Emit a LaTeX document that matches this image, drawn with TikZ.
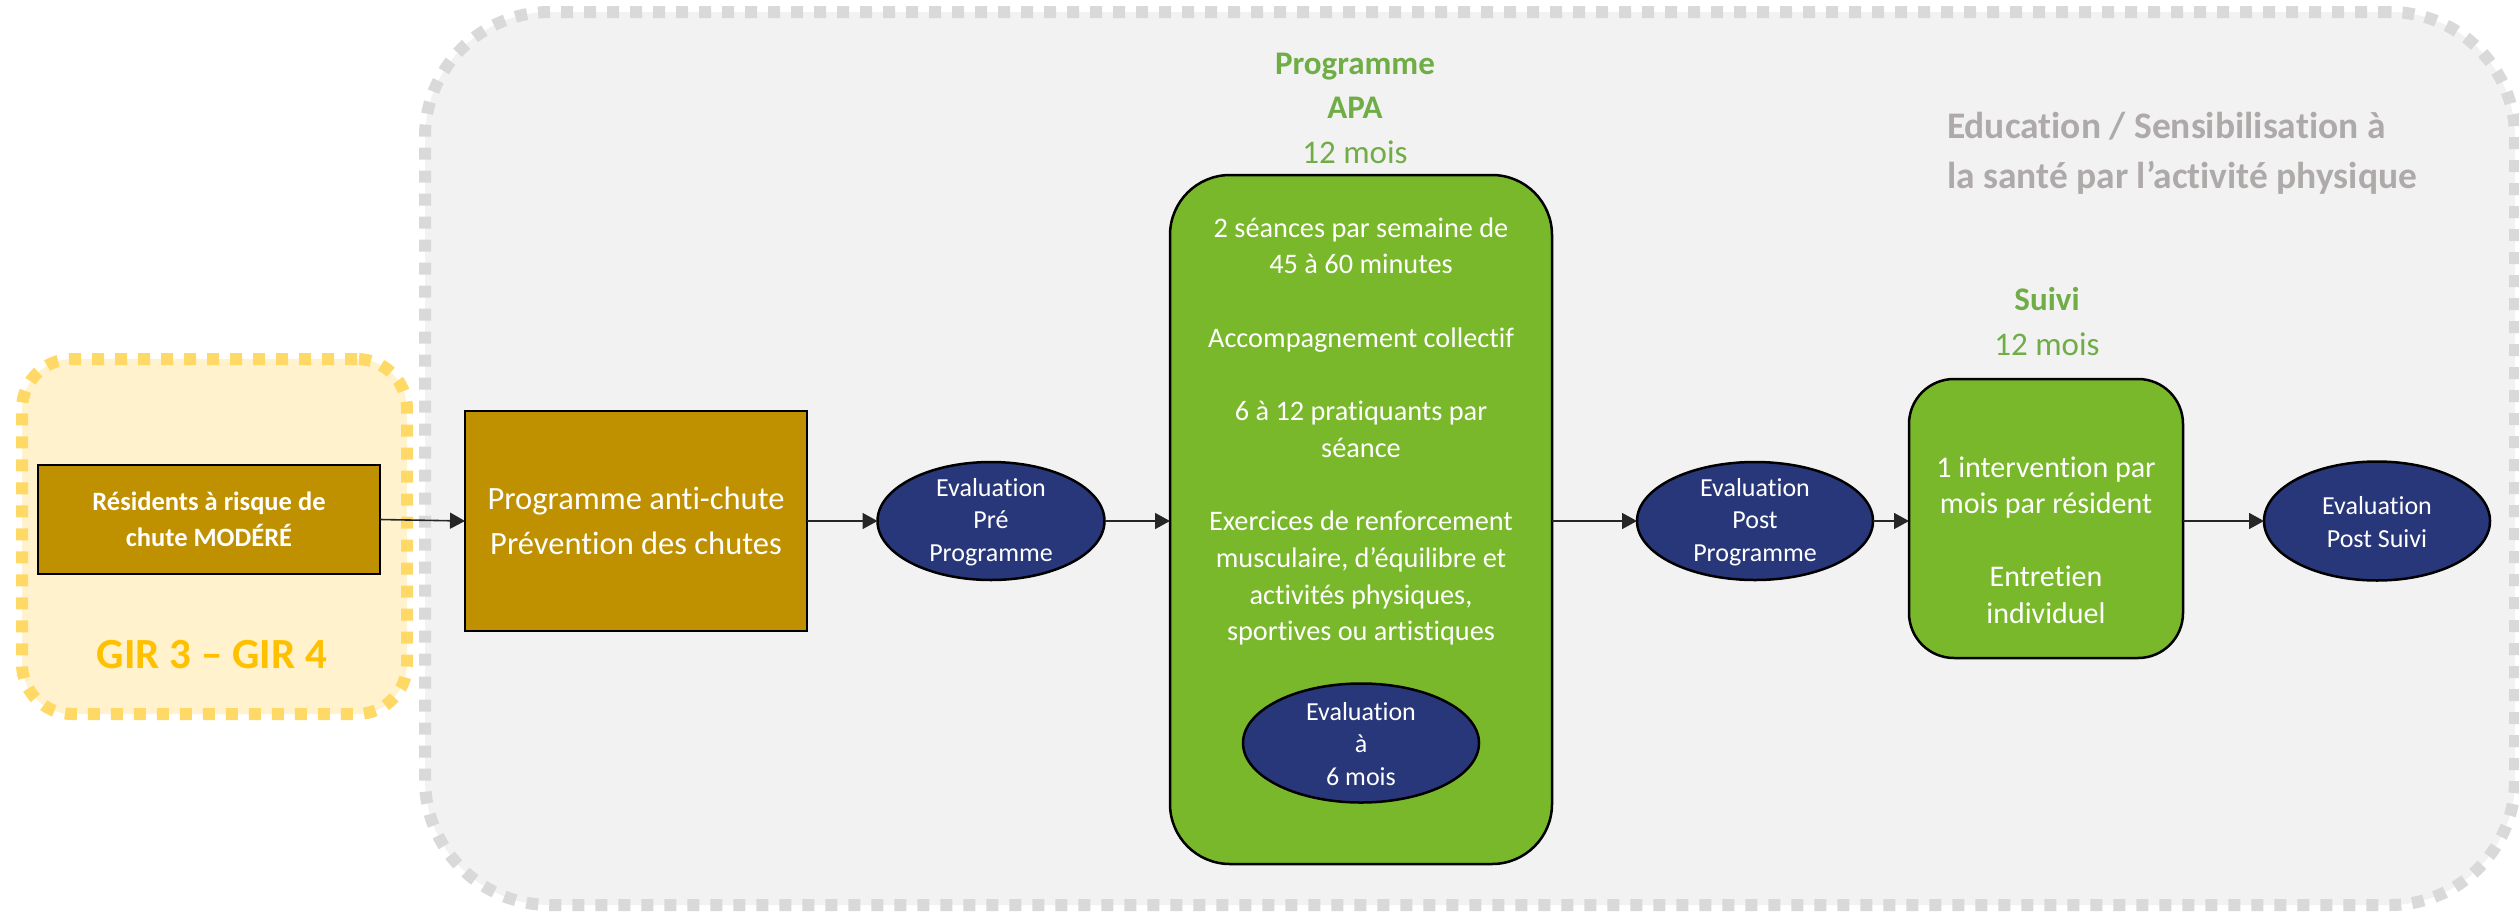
\documentclass[tikz,border=0pt]{standalone}
\usepackage{fontspec}
\setmainfont{Carlito}[Ligatures={TeX,NoCommon}]
\usetikzlibrary{shapes.geometric,arrows.meta}
\definecolor{gold}{HTML}{BF9000}
\definecolor{yellowfill}{HTML}{FFF2CC}
\definecolor{yellowdash}{HTML}{FFD966}
\definecolor{girorange}{HTML}{FFC000}
\definecolor{apagreen}{HTML}{78B82A}
\definecolor{navy}{HTML}{283779}
\definecolor{titlegreen}{HTML}{70AD47}
\definecolor{edugray}{HTML}{AEAAAA}
\definecolor{zonefill}{HTML}{F2F2F2}
\definecolor{zonedash}{HTML}{D9D9D9}
\tikzset{
  base/.style={inner sep=0pt, outer sep=0pt, align=center},
  outerbox/.style={base, rectangle, rounded corners=125pt, fill=zonefill, draw=zonedash, line width=12pt, dash pattern=on 12pt off 11pt},
  yellowbox/.style={base, rectangle, rounded corners=50pt, fill=yellowfill, draw=yellowdash, line width=12pt, dash pattern=on 12pt off 11pt},
  goldbox/.style={base, rectangle, draw=black, line width=2.5pt, fill=gold, text=white},
  greenbox/.style={base, rectangle, rounded corners=60pt, draw=black, line width=2.5pt, fill=apagreen},
  evalell/.style={base, ellipse, draw=black, line width=2.5pt, fill=navy},
  evaltext/.style={base, text=white, font=\fontsize{26}{32.5}\selectfont},
  boxtext/.style={base, text=white, font=\fontsize{30}{36.7}\selectfont},
  greentitle/.style={base, text=titlegreen, font=\fontsize{33}{44.5}\selectfont},
  flow/.style={draw=black!85, line width=1.6pt, -{Triangle[length=15pt,width=16pt]}},
}
\begin{document}
\begin{tikzpicture}[x=1pt,y=-1pt]
\useasboundingbox (0,0) rectangle (2519,911);
% containers
\node[outerbox, minimum width=2090pt, minimum height=893pt] (zone) at (1470,458.5) {};
\node[yellowbox, minimum width=385pt, minimum height=355pt] (gir) at (214.5,536.5) {};
% left part
\node[goldbox, minimum width=342pt, minimum height=109pt, font=\bfseries\fontsize{26.5}{36}\selectfont] (res) at (209,519.5) {Résidents à risque de\\chute MODÉRÉ};
\node[base, text=girorange, font=\bfseries\fontsize{43}{50}\selectfont] (girlabel) at (212,655) {GIR 3 – GIR 4};
\node[goldbox, minimum width=342pt, minimum height=220pt, font=\fontsize{32.5}{45}\selectfont] (anti) at (636,521) {Programme anti-chute\\Prévention des chutes};
\node[evalell, minimum width=227pt, minimum height=118pt] (pre) at (991,521) {};
\node[evaltext] (preT) at (991,522) {Evaluation\\Pré\\Programme};
% APA programme
\node[greentitle] (apaTitle) at (1355,108) {\textbf{Programme}\\\textbf{APA}\\12 mois};
\node[greenbox, minimum width=382pt, minimum height=689pt] (apa) at (1361,519.5) {};
\node[boxtext, font=\fontsize{28.3}{36.7}\selectfont] (apaT) at (1361,431.5) {2 séances par semaine de\\45 à 60 minutes\\[36.7pt]Accompagnement collectif\\[36.7pt]6 à 12 pratiquants par\\séance\\[36.7pt]Exercices de renforcement\\musculaire, d’équilibre et\\activités physiques,\\sportives ou artistiques};
\node[evalell, minimum width=236pt, minimum height=119pt] (six) at (1361,743) {};
\node[evaltext] (sixT) at (1361,744) {Evaluation\\à\\6 mois};
% post programme
\node[evalell, minimum width=236pt, minimum height=118pt] (post) at (1755,521) {};
\node[evaltext] (postT) at (1755,522) {Evaluation\\Post\\Programme};
% suivi
\node[greentitle] (suiviTitle) at (2047,321.5) {\textbf{Suivi}\\12 mois};
\node[greenbox, rounded corners=45pt, minimum width=274pt, minimum height=279pt] (suivi) at (2046,518.5) {};
\node[boxtext] (suiviT) at (2046,540) {1 intervention par\\mois par résident\\[36pt]Entretien\\individuel};
\node[evalell, minimum width=226pt, minimum height=119pt] (ps) at (2377,521) {};
\node[evaltext] (psT) at (2377,522) {Evaluation\\Post Suivi};
% education label
\node[base, align=left, anchor=west, text=edugray, font=\bfseries\fontsize{37.5}{50}\selectfont] (edu) at (1947,153) {Education / Sensibilisation à\\la santé par l’activité physique};
% connectors
\draw[flow] (res.east) -- (anti.west);
\draw[flow] (anti.east) -- (pre.west);
\draw[flow] (pre.east) -- (pre.east -| apa.west);
\draw[flow] (post.west -| apa.east) -- (post.west);
\draw[flow] (post.east) -- (post.east -| suivi.west);
\draw[flow] (ps.west -| suivi.east) -- (ps.west);
\end{tikzpicture}
\end{document}
